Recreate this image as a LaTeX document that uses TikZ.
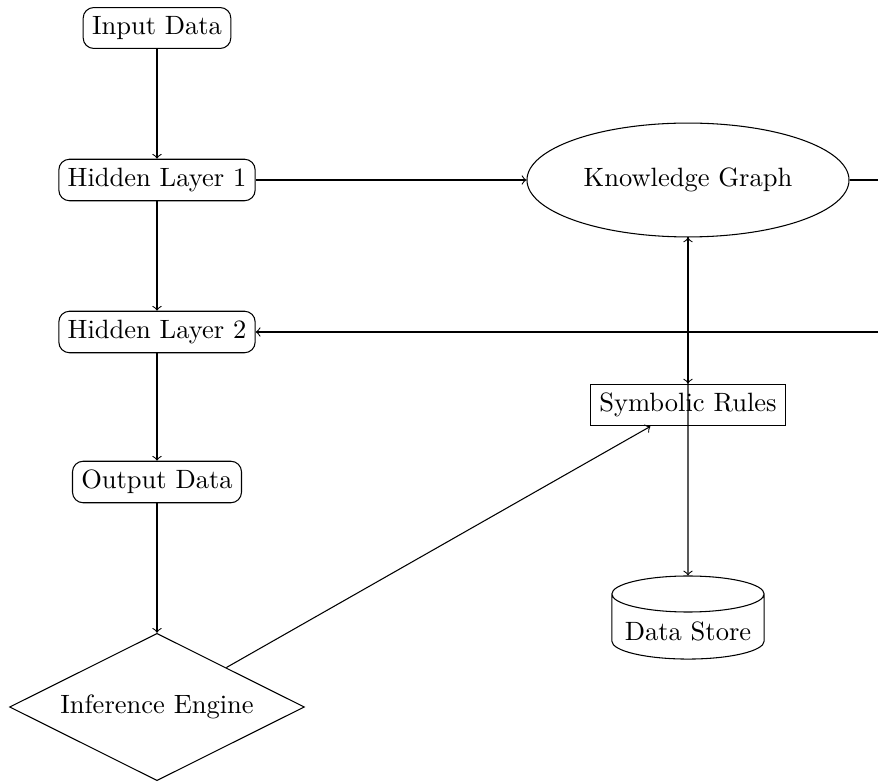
\documentclass[tikz,border=0pt]{standalone}
\usetikzlibrary{shapes.geometric}
\begin{document}
\begin{tikzpicture}[x=0.013263cm, y=-0.013263cm,
  layerbox/.style={draw, rounded corners, align=center},
  rulebox/.style={draw, rectangle},
  kgnode/.style={draw, ellipse, minimum width=4.27cm, minimum height=1.51cm},
  enginenode/.style={draw, diamond, aspect=2, minimum width=3.91cm, minimum height=1.94cm},
  storenode/.style={draw, cylinder, shape border rotate=90, aspect=0.25, minimum width=2.02cm, minimum height=0.94cm},
  flow/.style={->}]
  \useasboundingbox (0,0) rectangle (878,783);

  % neural pipeline
  \node[layerbox] (in)  at (157,28)  {Input Data};
  \node[layerbox] (h1)  at (157,180) {Hidden Layer 1};
  \node[layerbox] (h2)  at (157,332) {Hidden Layer 2};
  \node[layerbox] (out) at (157,482) {Output Data};
  \node[enginenode] (ie) at (157,707) {Inference Engine};

  % symbolic side
  \node[kgnode] (kg) at (688,180) {Knowledge Graph};
  \node[rulebox] (sr) at (688,405) {Symbolic Rules};
  \node[storenode] (ds) at (688,631) {Data Store};

  % links leaving the right edge
  \coordinate (kgout) at (878,180);
  \coordinate (h2in)  at (878,332);

  \draw[flow] (in) -- (h1);
  \draw[flow] (h1) -- (h2);
  \draw[flow] (h2) -- (out);
  \draw[flow] (out) -- (ie);
  \draw[flow] (h1) -- (kg);
  \draw (kg) -- (kgout);
  \draw[flow] (h2in) -- (h2);
  \draw[flow] (ie) -- (sr);
  \draw[flow] (kg) -- (sr);
  \draw[<->] (kg) -- (ds);
\end{tikzpicture}
\end{document}
